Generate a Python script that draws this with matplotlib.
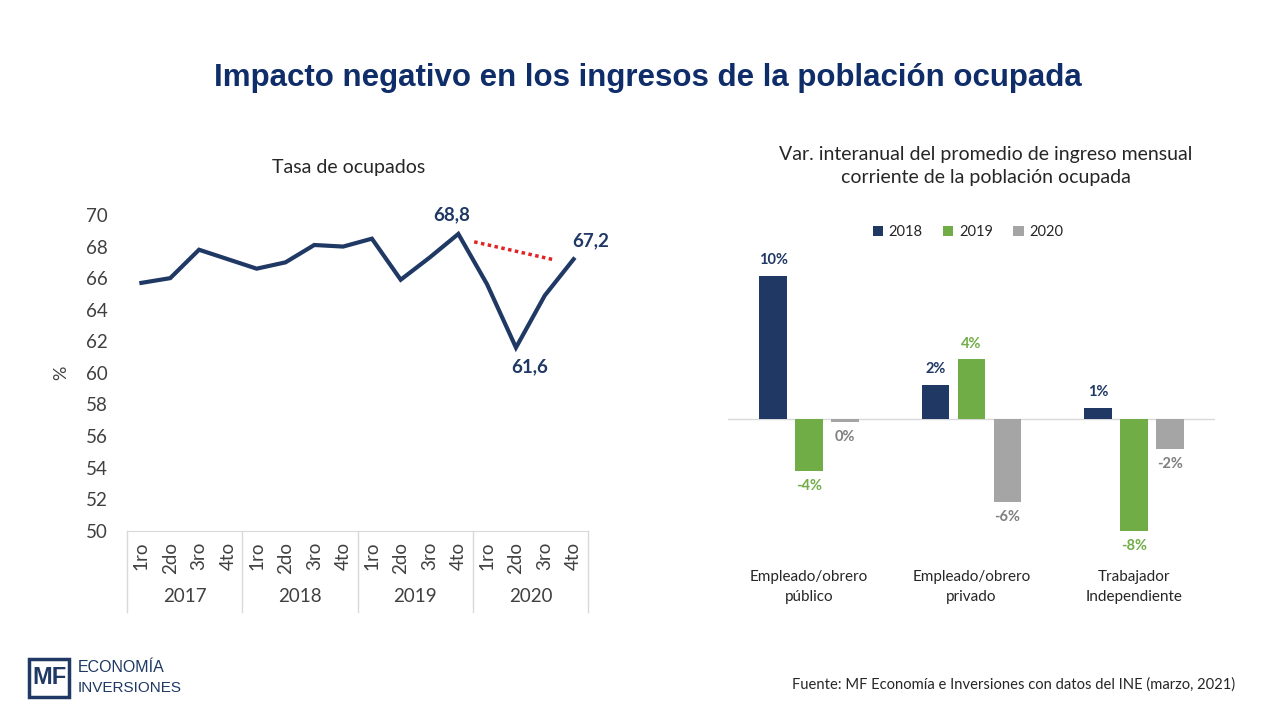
import matplotlib
matplotlib.use("Agg")
import matplotlib.pyplot as plt
from matplotlib.patches import Patch, Rectangle
from matplotlib.transforms import blended_transform_factory

# --- data: tasa de ocupados (%) ---
quarters = ["1ro", "2do", "3ro", "4to"] * 4
years = ["2017", "2018", "2019", "2020"]
tasa = [65.7, 66.0, 67.8, 67.2, 66.6, 67.0, 68.1, 68.0,
        68.5, 65.9, 67.3, 68.8, 65.6, 61.6, 64.9, 67.2]
labelled = {11: "68,8", 13: "61,6", 15: "67,2"}
trend_x = [11.55, 14.35]
trend_y = [68.3, 67.15]

# --- data: variacion interanual del ingreso (%) ---
groups = ["Empleado/obrero\npúblico", "Empleado/obrero\nprivado", "Trabajador\nIndependiente"]
series = ["2018", "2019", "2020"]
var_2018 = [10.0, 2.4, 0.8]
var_2019 = [-3.6, 4.2, -7.8]
var_2020 = [-0.2, -5.8, -2.1]

NAVY = "#1F3864"
GREEN = "#70AD47"
GRAY = "#A5A5A5"
TXT = "#404040"
W, H = 1280, 720

plt.rcParams["font.family"] = ["Lato", "DejaVu Sans"]
fig = plt.figure(figsize=(12.8, 7.2), dpi=100)
fig.patch.set_facecolor("white")


def px(x0, y0, x1, y1):
    # pixel box (top-left origin) -> figure fraction rect
    return [x0 / W, 1 - y1 / H, (x1 - x0) / W, (y1 - y0) / H]


fig.text(648 / W, 1 - 78 / H, "Impacto negativo en los ingresos de la población ocupada",
         ha="center", va="center", fontsize=22.5, fontweight="bold", color="#0F2D69",
         family=["Liberation Sans", "DejaVu Sans"])

# ---------------- left: line chart ----------------
ax = fig.add_axes(px(127, 215, 588, 530.7))
x = list(range(len(tasa)))
ax.plot(x, tasa, color=NAVY, lw=3, solid_joinstyle="miter")
ax.plot(trend_x, trend_y, color="#E02424", lw=2.5, ls=(0, (1, 1)))
ax.set_xlim(-0.5, 15.5)
ax.set_ylim(50, 70)
ax.set_yticks(range(50, 71, 2))
ax.tick_params(axis="y", length=0, pad=14, labelsize=13.5, labelcolor=TXT)
ax.set_xticks([])
for s in ["top", "right", "left"]:
    ax.spines[s].set_visible(False)
ax.spines["bottom"].set_color("#D9D9D9")
ax.set_facecolor("none")
ax.set_ylabel("%", fontsize=13, color=TXT, labelpad=12)

offsets = {11: (-5, 14), 13: (10, -14), 15: (12, 13)}
for i, lab in labelled.items():
    ax.annotate(lab, (i, tasa[i]), xytext=offsets[i], textcoords="offset points",
                ha="center", va="center", fontsize=13.5, fontweight="bold", color=NAVY)

tr = blended_transform_factory(ax.transData, ax.transAxes)
for i, q in enumerate(quarters):
    ax.text(i, -0.035, q, transform=tr, rotation=90, ha="center", va="top",
            fontsize=13.5, color=TXT)
box_bottom = -(612 - 530.7) / (530.7 - 215)
for k in range(5):
    ax.plot([k * 0.25, k * 0.25], [0, box_bottom], transform=ax.transAxes,
            color="#D9D9D9", lw=1, clip_on=False)
for k, yr in enumerate(years):
    ax.text(k * 4 + 1.5, -0.21, yr, transform=tr, ha="center", va="center",
            fontsize=13.5, color=TXT)

fig.text(349 / W, 1 - 168 / H, "Tasa de ocupados", ha="center", va="center",
         fontsize=14, color="#262626")

# ---------------- right: bar chart ----------------
bx = fig.add_axes(px(728, 250, 1215, 545))
bw = 0.172
step = 0.222
cols = [NAVY, GREEN, GRAY]
lab_cols = [NAVY, GREEN, "#7F7F7F"]
for j, (vals, c, lc) in enumerate(zip([var_2018, var_2019, var_2020], cols, lab_cols)):
    pos = [g + (j - 1) * step for g in range(len(groups))]
    bx.bar(pos, vals, width=bw, color=c, zorder=2)
    for p, v in zip(pos, vals):
        bx.annotate(f"{v:.0f}%".replace("-0%", "0%"), (p, v),
                    xytext=(0, 11 if v >= 0 else -11), textcoords="offset points",
                    ha="center", va="center", fontsize=10.5, fontweight="bold", color=lc)
bx.axhline(0, color="#D9D9D9", lw=1, zorder=1)
bx.set_xlim(-0.5, 2.5)
bx.set_ylim(-8.8, 11.8)
bx.axis("off")

btr = blended_transform_factory(bx.transData, bx.transAxes)
for g, name in enumerate(groups):
    bx.text(g, -(587 - 545) / 295, name, transform=btr, ha="center", va="center",
            fontsize=11, color="#262626", linespacing=1.5)

fig.text(986 / W, 1 - 166 / H,
         "Var. interanual del promedio de ingreso mensual\ncorriente de la población ocupada",
         ha="center", va="center", fontsize=14, color="#262626", linespacing=1.45)

handles = [Patch(facecolor=c, label=s) for c, s in zip(cols, series)]
fig.legend(handles=handles, loc="center", bbox_to_anchor=(968 / W, 1 - 232 / H), ncol=3,
           frameon=False, fontsize=10.5, handlelength=0.7, handleheight=0.7,
           handletextpad=0.4, columnspacing=1.4, labelcolor="#262626")

# ---------------- footer / logo ----------------
fig.text(1235 / W, 1 - 685 / H,
         "Fuente: MF Economía e Inversiones con datos del INE (marzo, 2021)",
         ha="right", va="center", fontsize=10.6, color="#262626")

fig.patches.append(Rectangle((29 / W, 1 - 697 / H), 40 / W, 38 / H, transform=fig.transFigure,
                             fill=False, edgecolor="#1F3864", lw=2.5))
fig.text(49 / W, 1 - 677 / H, "MF", ha="center", va="center", fontsize=17, fontweight="bold",
         color="#1F3864", family=["Liberation Sans", "DejaVu Sans"])
fig.text(78 / W, 1 - 668 / H, "ECONOMÍA", ha="left", va="center", fontsize=11.5,
         color="#1F3864", family=["Liberation Sans", "DejaVu Sans"])
fig.text(78 / W, 1 - 688 / H, "INVERSIONES", ha="left", va="center", fontsize=11,
         color="#1F3864", family=["Liberation Sans", "DejaVu Sans"])

fig.savefig("out.png", dpi=100)
